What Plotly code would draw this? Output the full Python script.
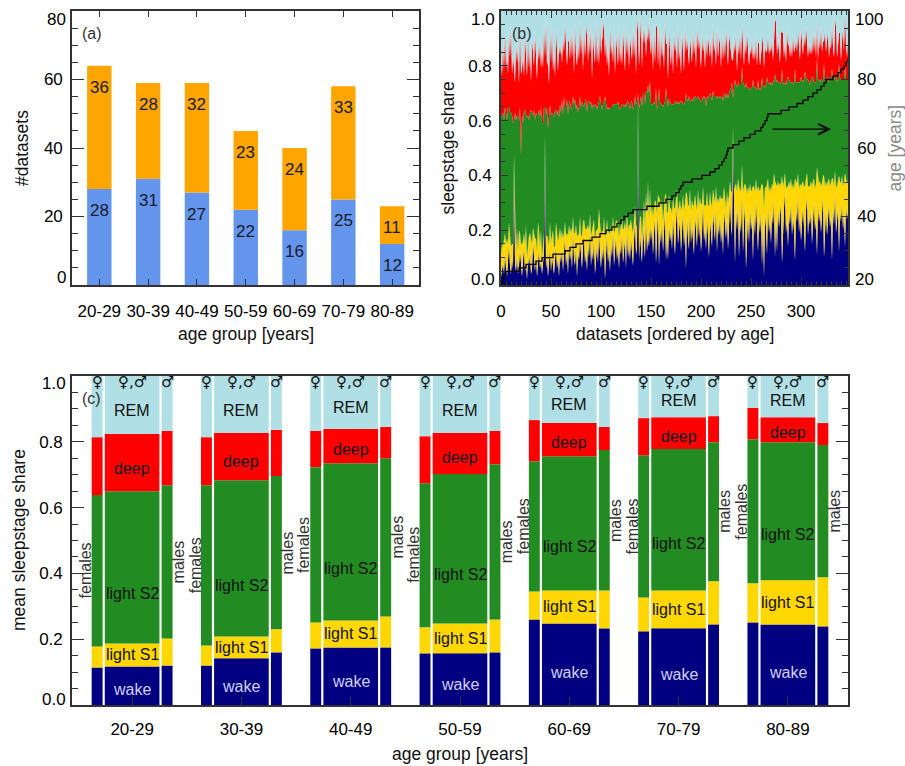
import numpy as np
import plotly.graph_objects as go

# ---------------- data ----------------
AGE_GROUPS = ["20-29", "30-39", "40-49", "50-59", "60-69", "70-79", "80-89"]
N_BLUE = [28, 31, 27, 22, 16, 25, 12]      # lower (blue) counts
N_ORANGE = [36, 28, 32, 23, 24, 33, 11]    # upper (orange) counts

# panel (b): per-dataset sleep-stage shares in percent (ordered by age)
WAKE_PCT = [
    3, 5, 8, 4, 12, 6, 3, 9, 15, 7, 4, 10, 6, 45, 8, 5, 11, 4, 7, 13,
    6, 3, 9, 14, 5, 8, 2, 10, 7, 12, 4, 6, 16, 9, 5, 11, 3, 8, 13, 6,
    9, 4, 7, 12, 52, 6, 10, 3, 8, 14, 5, 11, 7, 4, 9, 15, 6, 10, 3, 12,
    8, 14, 5, 11, 18, 7, 12, 4, 16, 9, 13, 6, 20, 10, 7, 15, 3, 12, 9, 17,
    11, 6, 14, 19, 8, 12, 5, 16, 10, 22, 7, 13, 9, 18, 4, 11, 15, 8, 20, 12,
    6, 14, 9, 17, 2, 11, 19, 8, 13, 5, 16, 10, 21, 7, 12, 18, 9, 14, 6, 15,
    11, 20, 8, 13, 17, 6, 22, 10, 15, 9, 18, 12, 7, 16, 24, 11, 14, 65, 9, 19,
    13, 8, 21, 15, 10, 26, 12, 18, 14, 23,
    16, 22, 11, 19, 25, 8, 18, 28, 7, 21, 15, 24, 12, 20, 27, 9, 18, 9, 23, 16,
    20, 13, 26, 17, 11, 22, 30, 15, 19, 24, 12, 18, 27, 14, 21, 6, 25, 17, 13, 28,
    15, 22, 18, 11, 26, 20, 14, 29, 17, 23, 12, 19, 31, 16, 21, 13, 25, 18, 10, 24,
    19, 14, 27, 21, 16, 30, 12, 23, 18, 26, 15, 22, 11, 28, 20, 17, 25, 13, 21, 32,
    22, 18, 55, 25, 8, 28, 20, 31, 10, 24, 19, 35, 12, 23, 30, 6, 21, 26, 15, 29,
    20, 24, 9, 27, 18, 32, 22, 12, 25, 19, 28, 7, 23, 3, 26, 21, 11, 30, 19, 24,
    15, 27, 22, 33, 10, 25, 12, 29, 21, 26, 30, 8, 23, 28, 35, 19, 24, 14, 27, 22,
    31, 18, 25, 20, 9, 28, 23, 34, 19, 26, 16, 24, 29, 21, 12, 27, 33, 18, 25, 22,
    28, 15, 26, 31, 20, 24, 11, 30, 23, 27, 19, 25, 33, 10, 22, 28, 18, 26, 30, 21,
    25, 9, 29, 22, 35, 19, 24, 28, 12, 27, 23, 31, 20, 26, 14, 29, 24, 27,
]
S1_PCT = [
    8, 10, 6, 12, 7, 9, 14, 6, 8, 11, 10, 5, 9, 3, 12, 7, 10, 8, 13, 6,
    9, 12, 7, 5, 10, 14, 8, 6, 11, 7, 13, 9, 5, 10, 12, 6, 9, 15, 7, 8,
    11, 6, 10, 7, 3, 12, 8, 14, 6, 9, 11, 7, 13, 10, 5, 8, 12, 6, 15, 9,
    9, 6, 12, 8, 5, 11, 7, 14, 6, 10, 8, 13, 5, 9, 12, 7, 15, 6, 10, 8,
    7, 12, 9, 5, 13, 8, 16, 6, 10, 4, 11, 7, 14, 6, 12, 9, 5, 13, 8, 10,
    12, 6, 10, 8, 15, 9, 5, 11, 7, 13, 6, 10, 4, 12, 8, 6, 14, 9, 11, 7,
    9, 5, 12, 8, 6, 14, 5, 10, 7, 13, 6, 9, 12, 8, 5, 11, 7, 2, 10, 6,
    12, 9, 7, 16, 11, 8, 14, 20, 10, 12,
    10, 7, 14, 9, 6, 22, 8, 5, 25, 10, 13, 7, 11, 9, 6, 24, 8, 18, 10, 12,
    8, 13, 6, 11, 17, 9, 5, 12, 10, 7, 15, 11, 6, 13, 9, 28, 8, 12, 16, 7,
    12, 9, 11, 18, 7, 10, 13, 6, 12, 9, 17, 11, 5, 13, 8, 16, 9, 11, 19, 10,
    11, 15, 8, 10, 14, 6, 18, 9, 12, 7, 16, 10, 20, 8, 13, 11, 9, 17, 12, 6,
    12, 16, 3, 10, 28, 9, 14, 8, 26, 11, 15, 9, 22, 13, 7, 30, 12, 10, 19, 8,
    14, 11, 27, 9, 16, 7, 12, 24, 10, 15, 8, 30, 13, 25, 10, 14, 26, 9, 15, 12,
    19, 10, 14, 8, 28, 12, 24, 9, 15, 11, 7, 32, 13, 10, 6, 16, 12, 22, 11, 14,
    8, 17, 12, 15, 30, 10, 14, 7, 16, 11, 20, 13, 9, 15, 24, 12, 8, 18, 11, 14,
    10, 21, 12, 8, 15, 13, 32, 9, 14, 11, 17, 12, 7, 30, 14, 10, 18, 12, 9, 15,
    13, 30, 10, 14, 7, 17, 12, 10, 28, 11, 14, 9, 16, 12, 27, 10, 13, 11,
]
S2_PCT = [
    50, 47, 49, 44, 46, 48, 43, 50, 42, 45, 49, 47, 44, 12, 43, 48, 41, 50, 40, 46,
    32, 47, 43, 45, 49, 40, 51, 46, 42, 44, 47, 48, 41, 45, 43, 46, 50, 39, 44, 47,
    45, 49, 42, 46, 10, 44, 47, 40, 48, 43, 46, 45, 42, 47, 50, 41, 44, 48, 43, 45,
    46, 48, 45, 50, 42, 47, 49, 44, 45, 48, 43, 46, 44, 47, 49, 42, 48, 45, 46, 44,
    47, 49, 43, 41, 46, 48, 42, 45, 47, 40, 49, 44, 43, 41, 50, 46, 44, 45, 39, 47,
    48, 44, 47, 42, 52, 45, 40, 46, 44, 47, 43, 45, 41, 47, 46, 42, 43, 44, 48, 42,
    45, 41, 46, 44, 43, 45, 40, 47, 44, 42, 43, 46, 45, 41, 40, 44, 46, 3, 45, 41,
    44, 48, 42, 39, 45, 37, 44, 35, 46, 40,
    40, 37, 41, 39, 35, 42, 38, 33, 40, 36, 38, 35, 42, 37, 34, 39, 41, 38, 35, 39,
    38, 40, 34, 38, 39, 36, 31, 40, 37, 36, 40, 38, 33, 39, 37, 36, 35, 38, 40, 32,
    40, 37, 38, 40, 36, 38, 41, 34, 39, 36, 38, 37, 33, 39, 40, 36, 35, 39, 40, 36,
    39, 38, 36, 38, 39, 33, 38, 37, 39, 35, 38, 37, 36, 34, 37, 40, 36, 38, 37, 33,
    38, 40, 10, 37, 39, 36, 38, 35, 37, 38, 39, 36, 40, 37, 35, 38, 39, 36, 38, 34,
    38, 37, 39, 36, 38, 33, 37, 39, 36, 38, 35, 39, 37, 45, 36, 38, 39, 35, 40, 37,
    40, 36, 38, 34, 39, 37, 39, 36, 38, 37, 36, 39, 38, 35, 33, 38, 39, 40, 37, 38,
    35, 39, 37, 38, 40, 36, 37, 33, 39, 37, 40, 38, 36, 39, 42, 37, 34, 39, 38, 37,
    37, 40, 38, 35, 39, 37, 40, 36, 38, 36, 39, 38, 34, 41, 39, 36, 40, 38, 35, 39,
    38, 40, 36, 39, 34, 40, 38, 37, 41, 37, 38, 35, 39, 37, 40, 36, 38, 37,
]
DEEP_PCT = [
    22, 14, 27, 18, 30, 16, 24, 12, 28, 20, 33, 15, 25, 20, 11, 29, 19, 26, 13, 31,
    30, 17, 25, 12, 28, 22, 15, 31, 19, 24, 10, 27, 21, 16, 33, 20, 13, 26, 18, 29,
    14, 28, 20, 31, 18, 36, 15, 25, 11, 29, 19, 32, 16, 24, 12, 30, 21, 14, 27, 18,
    25, 13, 29, 16, 31, 19, 12, 27, 22, 15, 30, 18, 24, 11, 28, 20, 14, 26, 17, 28,
    19, 27, 12, 30, 16, 23, 33, 14, 25, 18, 29, 11, 26, 20, 15, 31, 17, 24, 13, 28,
    18, 25, 29, 30, 14, 27, 16, 22, 12, 31, 19, 24, 15, 28, 11, 26, 20, 13, 30, 17,
    23, 14, 28, 19, 12, 30, 17, 25, 13, 27, 20, 15, 31, 18, 24, 11, 26, 28, 16, 22,
    30, 14, 25, 18, 29, 12, 23, 16, 27, 13,
    18, 26, 12, 28, 15, 22, 31, 14, 24, 11, 27, 17, 23, 13, 29, 16, 21, 10, 26, 19,
    14, 25, 11, 27, 18, 22, 13, 29, 16, 20, 10, 26, 19, 12, 28, 15, 23, 17, 11, 24,
    20, 13, 26, 15, 22, 11, 28, 17, 24, 19, 12, 25, 16, 21, 10, 27, 14, 23, 18, 13,
    22, 12, 25, 16, 20, 11, 27, 14, 19, 23, 10, 24, 15, 21, 13, 26, 17, 12, 22, 16,
    13, 8, 14, 17, 10, 19, 6, 15, 11, 20, 9, 16, 12, 7, 18, 10, 21, 12, 8, 16,
    12, 18, 7, 15, 10, 20, 9, 14, 17, 8, 13, 11, 19, 6, 15, 12, 9, 18, 10, 14,
    11, 17, 8, 14, 20, 22, 9, 16, 12, 7, 20, 13, 18, 10, 15, 8, 19, 11, 14, 9,
    15, 9, 18, 12, 7, 16, 11, 20, 13, 8, 18, 14, 10, 17, 9, 19, 12, 8, 15, 11,
    13, 8, 17, 11, 19, 9, 14, 7, 16, 12, 20, 10, 15, 8, 18, 11, 13, 17, 9, 14,
    10, 16, 12, 8, 18, 22, 9, 15, 11, 17, 7, 14, 19, 10, 20, 13, 8, 16,
]
# sorted subject ages: number of datasets for each age 20..89
AGE_COUNTS = [
    1, 1, 1, 2, 13, 7, 10, 6, 11, 12,
    5, 6, 7, 9, 8, 6, 6, 5, 4, 3,
    4, 5, 14, 12, 7, 6, 4, 3, 2, 2,
    9, 10, 8, 5, 4, 3, 2, 2, 1, 1,
    5, 6, 5, 6, 5, 6, 2, 2, 2, 1,
    13, 8, 8, 6, 5, 5, 4, 4, 3, 2,
    7, 5, 3, 3, 2, 2, 1, 0, 0, 0,
]

# panel (c): mean shares per age group: wake, light S1, light S2, deep, REM
STAGES = ["wake", "light S1", "light S2", "deep", "REM"]
FEMALES = {
    "wake":     [0.114, 0.120, 0.172, 0.157, 0.260, 0.224, 0.251],
    "light S1": [0.064, 0.061, 0.079, 0.079, 0.085, 0.103, 0.119],
    "light S2": [0.460, 0.487, 0.472, 0.438, 0.396, 0.432, 0.438],
    "deep":     [0.176, 0.146, 0.110, 0.143, 0.125, 0.113, 0.095],
    "REM":      [0.186, 0.186, 0.167, 0.183, 0.134, 0.128, 0.097],
}
ALL = {
    "wake":     [0.117, 0.142, 0.175, 0.157, 0.248, 0.233, 0.245],
    "light S1": [0.070, 0.066, 0.082, 0.091, 0.100, 0.115, 0.134],
    "light S2": [0.463, 0.475, 0.478, 0.454, 0.408, 0.430, 0.420],
    "deep":     [0.174, 0.144, 0.104, 0.125, 0.101, 0.097, 0.076],
    "REM":      [0.176, 0.173, 0.161, 0.173, 0.143, 0.125, 0.125],
}
MALES = {
    "wake":     [0.120, 0.160, 0.175, 0.160, 0.233, 0.245, 0.239],
    "light S1": [0.082, 0.070, 0.094, 0.100, 0.115, 0.131, 0.149],
    "light S2": [0.466, 0.466, 0.481, 0.472, 0.427, 0.423, 0.402],
    "deep":     [0.165, 0.140, 0.095, 0.101, 0.070, 0.079, 0.067],
    "REM":      [0.167, 0.164, 0.155, 0.167, 0.155, 0.122, 0.143],
}

# ---------------- styles ----------------
FONT = "Liberation Sans, Arial, Helvetica, sans-serif"
STAGE_COLORS = {"wake": "#000080", "light S1": "#FFD700", "light S2": "#228B22",
                "deep": "#FF0000", "REM": "#B0E0E6"}
BLUE, ORANGE = "#6495ED", "#FFA500"
AX = "#333333"
W, H = 905, 766


def px_x(p):
    return p / W


def px_y(p):
    return 1 - p / H


def note(x, y, text, xref="paper", yref="paper", size=17, color="black", angle=0,
         xanchor="center", yanchor="middle", family=FONT):
    return dict(x=x, y=y, xref=xref, yref=yref, text=text, showarrow=False, textangle=angle,
                xanchor=xanchor, yanchor=yanchor, font=dict(size=size, color=color, family=family))


fig = go.Figure()
ann = []

# ---------------- panel (a) ----------------
xi = np.arange(len(AGE_GROUPS))
blue = np.array(N_BLUE)
orange = np.array(N_ORANGE)
fig.add_trace(go.Bar(x=xi, y=blue, base=0, width=0.5, offset=-0.25,
                     marker=dict(color=BLUE, line=dict(width=0)), xaxis="x", yaxis="y"))
fig.add_trace(go.Bar(x=xi, y=orange, base=blue, width=0.5, offset=-0.25,
                     marker=dict(color=ORANGE, line=dict(width=0)), xaxis="x", yaxis="y"))
for i in xi:
    ann.append(note(i, blue[i] - 6.3, str(blue[i]), "x", "y", color="#1a1a2a"))
    ann.append(note(i, blue[i] + orange[i] - 6.3, str(orange[i]), "x", "y", color="#1a1a1a"))

# ---------------- panel (b) ----------------
n = min(len(WAKE_PCT), len(S1_PCT), len(S2_PCT), len(DEEP_PCT))
wake = np.array(WAKE_PCT[:n]) / 100
s1 = np.array(S1_PCT[:n]) / 100
s2 = np.array(S2_PCT[:n]) / 100
deep = np.array(DEEP_PCT[:n]) / 100
rem = np.clip(1 - (wake + s1 + s2 + deep), 0, None)
xd = np.arange(n)
for name, vals in [("wake", wake), ("light S1", s1), ("light S2", s2), ("deep", deep), ("REM", rem)]:
    fig.add_trace(go.Scatter(x=xd, y=vals, stackgroup="b", mode="lines",
                             line=dict(width=0), fillcolor=STAGE_COLORS[name],
                             xaxis="x2", yaxis="y2"))
ages = np.repeat(np.arange(20, 20 + len(AGE_COUNTS)), AGE_COUNTS)
na = min(len(ages), n)
fig.add_trace(go.Scatter(x=xd[:na], y=ages[:na], mode="lines",
                         line=dict(color="black", width=1.3, shape="hv"),
                         xaxis="x2", yaxis="y4"))
ann.append(dict(x=330, y=65.5, ax=270, ay=65.5, xref="x2", yref="y4", axref="x2", ayref="y4",
                showarrow=True, arrowhead=5, arrowsize=1.6, arrowwidth=1.3, arrowcolor="black", text=""))

# ---------------- panel (c) ----------------
LBL_FRAC = {"wake": 0.4, "light S1": 0.5, "light S2": 0.33, "deep": 0.4, "REM": 0.4}
for shares, center, width, sym in [(FEMALES, -0.32, 0.10, "♀"), (ALL, 0.0, 0.50, "♀,♂"),
                                   (MALES, 0.32, 0.10, "♂")]:
    base = np.zeros(len(AGE_GROUPS))
    mids = base
    for st in STAGES:
        v = np.array(shares[st])
        fig.add_trace(go.Bar(x=xi, y=v, base=base.copy(), width=width, offset=center - width / 2,
                             marker=dict(color=STAGE_COLORS[st], line=dict(width=0)),
                             xaxis="x3", yaxis="y3"))
        if shares is ALL:
            for i in xi:
                ann.append(note(i, base[i] + LBL_FRAC[st] * v[i], st, "x3", "y3", size=16,
                                color="#D0D0F8" if st == "wake" else "#111111"))
        if st == "light S2":
            mids = base + v / 2
        base = base + v
    for i in xi:
        ann.append(note(i + center, 0.981, sym, "x3", "y3", size=15, color="#111111",
                        family="DejaVu Sans, " + FONT))
    if shares is FEMALES:
        for i in xi:
            ann.append(note(i - 0.425, mids[i], "females", "x3", "y3", size=16, color="#333333", angle=-90))
    if shares is MALES:
        for i in xi:
            ann.append(note(i + 0.425, mids[i], "males", "x3", "y3", size=16, color="#333333", angle=-90))

# panel tags
ann.append(note(px_x(92), px_y(33.5), "(a)", size=16, color="#333333"))
ann.append(note(px_x(522), px_y(33), "(b)", size=16, color="#333333"))
ann.append(note(px_x(91.5), px_y(398.5), "(c)", size=16, color="#333333"))

# axis titles
ann += [
    note(px_x(22), px_y(148), "#datasets", size=17.5, color="#111111", angle=-90),
    note(px_x(245.5), px_y(334), "age group [years]", size=17.5, color="#111111"),
    note(px_x(447.5), px_y(148), "sleepstage share", size=17.5, color="#111111", angle=-90),
    note(px_x(674.5), px_y(334), "datasets [ordered by age]", size=17.5, color="#111111"),
    note(px_x(894.5), px_y(148), "age [years]", size=17.5, color="#8a8a8a", angle=-90),
    note(px_x(18.5), px_y(540.5), "mean sleepstage share", size=17.5, color="#111111", angle=-90),
    note(px_x(459.5), px_y(754), "age group [years]", size=17.5, color="#111111"),
]

# end-of-axis tick labels sit just inside the frame
ann += [
    note(px_x(68), px_y(19.3), "80", xanchor="right"),
    note(px_x(68), px_y(278), "0", xanchor="right"),
    note(px_x(497), px_y(19.3), "1.0", xanchor="right"),
    note(px_x(497), px_y(279), "0.0", xanchor="right"),
    note(px_x(853), px_y(19.5), "100", xanchor="left"),
    note(px_x(853), px_y(279.5), "20", xanchor="left"),
    note(px_x(68), px_y(383.3), "1.0", xanchor="right"),
    note(px_x(68), px_y(699), "0.0", xanchor="right"),
]

common = dict(showline=True, linecolor=AX, linewidth=1.6, showgrid=False, zeroline=False,
              automargin=False, ticks="inside", tickcolor=AX, tickwidth=1.2,
              tickfont=dict(size=17, color="black"))

yA = [0, 20, 40, 60, 80]
yB = [0, 0.2, 0.4, 0.6, 0.8, 1.0]
yAge = [20, 40, 60, 80, 100]


def inner_labels(vals, fmt):
    return [""] + [fmt(v) for v in vals[1:-1]] + [""]


fig.update_layout(
    width=W, height=H, margin=dict(l=0, r=0, t=0, b=0, autoexpand=False),
    paper_bgcolor="white", plot_bgcolor="white", showlegend=False, barmode="overlay",
    font=dict(family=FONT, size=17, color="black"),
    annotations=ann,
    xaxis=dict(domain=[px_x(72), px_x(419)], anchor="y", range=[-0.56, 6.55],
               tickvals=list(xi), ticktext=AGE_GROUPS, ticklen=6, mirror="ticks",
               ticklabelstandoff=10, **common),
    yaxis=dict(domain=[px_y(285), px_y(11)], anchor="x", range=[0, 80],
               tickvals=yA, ticktext=inner_labels(yA, lambda v: f"{v:d}"), ticklen=12,
               minor=dict(dtick=5, ticklen=6, ticks="inside", tickcolor=AX), mirror="ticks",
               ticklabelstandoff=4, **common),
    xaxis2=dict(domain=[px_x(501), px_x(848)], anchor="y2", range=[0, 347], dtick=50, ticklen=7,
                minor=dict(dtick=5, ticklen=4, ticks="inside", tickcolor=AX), mirror="ticks",
                ticklabelstandoff=10, **common),
    yaxis2=dict(domain=[px_y(285), px_y(11)], anchor="x2", range=[0, 1],
                tickvals=yB, ticktext=inner_labels(yB, lambda v: f"{v:.1f}"),
                ticklen=7, minor=dict(dtick=0.05, ticklen=4, ticks="inside", tickcolor=AX),
                mirror=True, ticklabelstandoff=4, **common),
    yaxis4=dict(overlaying="y2", anchor="x2", side="right", range=[20, 100],
                tickvals=yAge, ticktext=inner_labels(yAge, lambda v: f"{v:d}"),
                ticklen=7, minor=dict(dtick=5, ticklen=4, ticks="inside", tickcolor=AX),
                ticklabelstandoff=4, **common),
    xaxis3=dict(domain=[px_x(72), px_x(848)], anchor="y3", range=[-0.55, 6.55],
                tickvals=list(xi), ticktext=AGE_GROUPS, ticklen=8, mirror=True,
                ticklabelstandoff=8, **common),
    yaxis3=dict(domain=[px_y(705), px_y(376)], anchor="x3", range=[0, 1],
                tickvals=yB, ticktext=inner_labels(yB, lambda v: f"{v:.1f}"),
                ticklen=12, minor=dict(dtick=0.05, ticklen=6, ticks="inside", tickcolor=AX),
                mirror="ticks", ticklabelstandoff=4, **common),
)

fig.write_html("out.html")
